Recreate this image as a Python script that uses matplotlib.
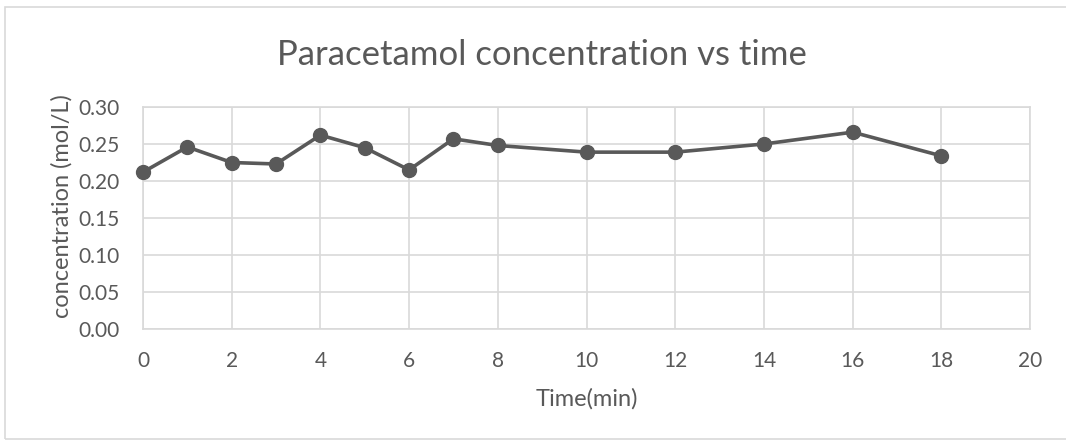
import matplotlib.pyplot as plt
from matplotlib.patches import Rectangle

# data
time_min = [0, 1, 2, 3, 4, 5, 6, 7, 8, 10, 12, 14, 16, 18]
conc = [0.212, 0.246, 0.225, 0.223, 0.262, 0.245, 0.215, 0.257, 0.248,
        0.239, 0.239, 0.250, 0.266, 0.234]
x_ticks = list(range(0, 21, 2))
y_ticks = [0.00, 0.05, 0.10, 0.15, 0.20, 0.25, 0.30]

plt.rcParams['font.family'] = ['Lato', 'DejaVu Sans']
txt = "#595959"
grid = "#d9d9d9"

fig = plt.figure(figsize=(10.66, 4.41), dpi=100)
ax = fig.add_axes([143/1066, 1 - 329/441, (1030-143)/1066, (329-107)/441])

# chart area border
fig.patches.append(Rectangle((5/1066, 0.005), 1.2, 1 - 7/441 - 0.005,
                             transform=fig.transFigure, fill=False,
                             edgecolor=grid, lw=1.2))

ax.plot(time_min, conc, color=txt, lw=2.6, marker="o", markersize=10,
        clip_on=False, zorder=3)

ax.set_xlim(0, 20)
ax.set_ylim(0, 0.30)
ax.set_xticks(x_ticks)
ax.set_yticks(y_ticks)
ax.set_yticklabels([f"{v:.2f}" for v in y_ticks])
ax.grid(True, color=grid, lw=1.2)
ax.set_axisbelow(True)
for s in ax.spines.values():
    s.set_color(grid)
    s.set_linewidth(1.2)
ax.tick_params(length=0, labelsize=15, colors=txt)
ax.tick_params(axis="x", pad=16)
ax.tick_params(axis="y", pad=17)

ax.set_xlabel("Time(min)", fontsize=17, color=txt, labelpad=12)
ax.set_ylabel("concentration (mol/L)", fontsize=17, color=txt, labelpad=4, y=0.555)
fig.text(0.508, 1 - 55/441, "Paracetamol concentration vs time",
         ha="center", va="center", fontsize=25, color=txt)

fig.savefig("out.png", dpi=100)
